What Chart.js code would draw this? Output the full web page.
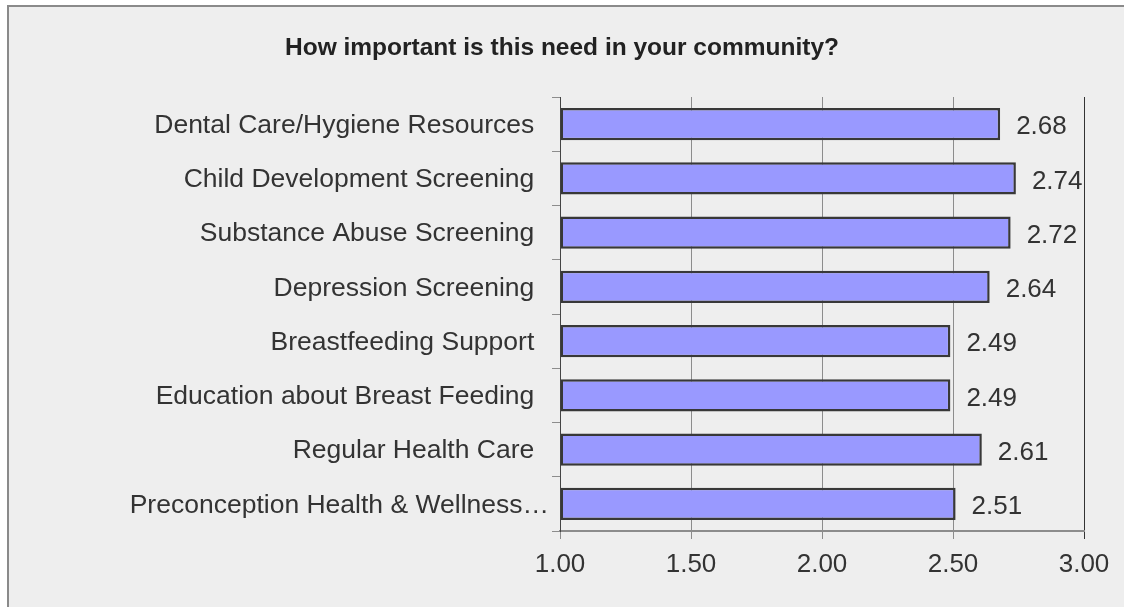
<!DOCTYPE html>
<html>
<head>
<meta charset="utf-8">
<script src="https://cdn.jsdelivr.net/npm/chart.js@4/dist/chart.umd.min.js"></script>
<style>
  html, body { margin: 0; padding: 0; background: #ffffff; }
  #wrap { width: 1124px; height: 607px; position: relative; }
</style>
</head>
<body>
<div id="wrap"><canvas id="c" width="1124" height="607"></canvas></div>
<script>
// Survey items, top to bottom
const categories = [
  'Dental Care/Hygiene Resources  ',
  'Child Development Screening  ',
  'Substance Abuse Screening  ',
  'Depression Screening  ',
  'Breastfeeding Support  ',
  'Education about Breast Feeding  ',
  'Regular Health Care  ',
  'Preconception Health & Wellness…'
];
// Mean importance rating for each item
const ratings = [2.68, 2.74, 2.72, 2.64, 2.49, 2.49, 2.61, 2.51];
// Value axis range and tick step
const axisMin = 1.0;
const axisMax = 3.0;
const axisStep = 0.5;

const FONT = '"Liberation Sans", Arial, sans-serif';
const TEXT = '#333333';

// Panel background with a grey frame along the top and left edges
const panelPlugin = {
  id: 'panel',
  beforeDraw(chart) {
    const ctx = chart.ctx;
    ctx.save();
    ctx.fillStyle = '#ffffff';
    ctx.fillRect(0, 0, chart.width, chart.height);
    ctx.fillStyle = '#eeeeee';
    ctx.fillRect(8, 6, chart.width - 8, chart.height - 6);
    ctx.strokeStyle = '#8a8a8a';
    ctx.lineWidth = 2;
    ctx.beginPath();
    ctx.moveTo(chart.width, 6);
    ctx.lineTo(8, 6);
    ctx.lineTo(8, chart.height);
    ctx.stroke();
    ctx.restore();
  }
};

// Rating printed to the right of each bar
const valueLabels = {
  id: 'valueLabels',
  afterDatasetsDraw(chart) {
    const ctx = chart.ctx;
    const meta = chart.getDatasetMeta(0);
    ctx.save();
    ctx.font = '26px ' + FONT;
    ctx.fillStyle = TEXT;
    ctx.textAlign = 'left';
    ctx.textBaseline = 'middle';
    meta.data.forEach((bar, i) => {
      const v = chart.data.datasets[0].data[i];
      ctx.fillText(v.toFixed(2), bar.x + 16, bar.y + 3);
    });
    ctx.restore();
  }
};

new Chart(document.getElementById('c'), {
  type: 'bar',
  data: {
    labels: categories,
    datasets: [{
      data: ratings,
      base: axisMin,
      backgroundColor: '#9999ff',
      borderColor: '#383838',
      borderWidth: 2.5,
      borderSkipped: false,
      categoryPercentage: 1.0,
      barPercentage: 0.59
    }]
  },
  options: {
    indexAxis: 'y',
    responsive: false,
    animation: false,
    devicePixelRatio: 1,
    layout: { padding: { top: 20, left: 40, right: 40, bottom: 0 } },
    plugins: {
      legend: { display: false },
      tooltip: { enabled: false },
      title: {
        display: true,
        text: 'How important is this need in your community?',
        color: '#222222',
        font: { family: FONT, size: 24.5, weight: 'bold' },
        padding: { top: 14, bottom: 33.6 }
      }
    },
    scales: {
      x: {
        type: 'linear',
        min: axisMin,
        max: axisMax,
        ticks: {
          stepSize: axisStep,
          color: TEXT,
          padding: 10,
          font: { family: FONT, size: 26 },
          callback: (v) => Number(v).toFixed(2)
        },
        grid: {
          color: (ctx) => (ctx.tick && ctx.tick.value === axisMax) ? '#333333' : '#8c8c8c',
          lineWidth: 1,
          tickLength: 8,
          drawTicks: true
        },
        border: { display: true, color: '#8c8c8c', width: 2 },
        afterFit: (scale) => { scale.height = 76; }
      },
      y: {
        ticks: {
          color: TEXT,
          padding: 3,
          labelOffset: 1.5,
          font: { family: FONT, size: 26.5 }
        },
        grid: {
          display: true,
          drawOnChartArea: false,
          drawTicks: true,
          tickLength: 8,
          offset: true,
          color: '#8c8c8c'
        },
        border: { display: true, color: '#444444', width: 1 },
        afterFit: (scale) => { scale.width = 520; }
      }
    }
  },
  plugins: [panelPlugin, valueLabels]
});
</script>
</body>
</html>
